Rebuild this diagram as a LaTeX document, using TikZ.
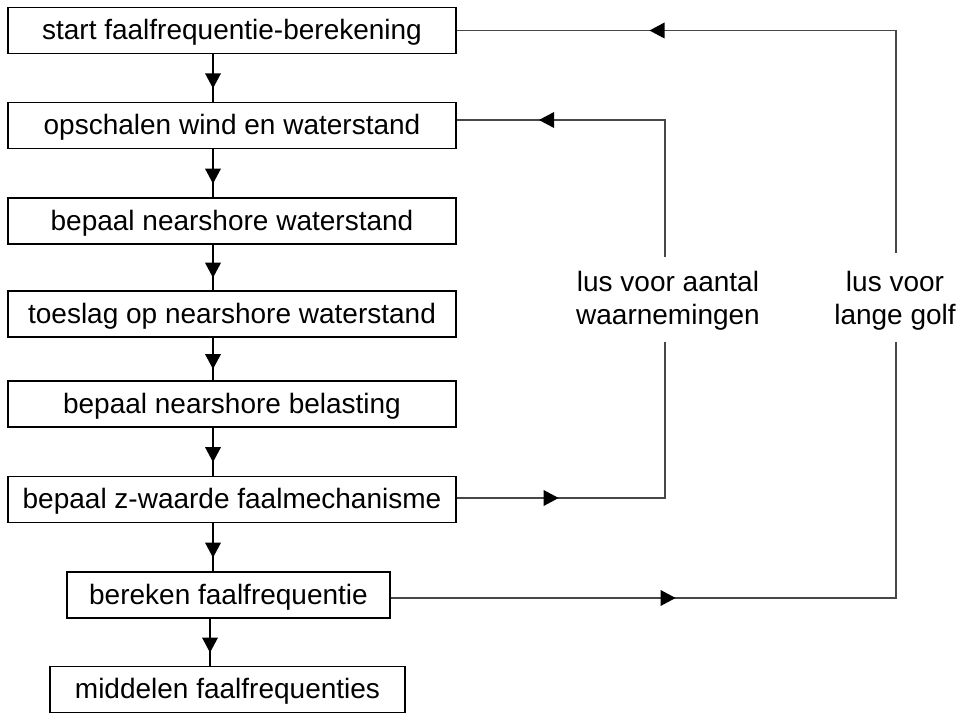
\documentclass[tikz,border=0pt]{standalone}
\usepackage{fontspec}
\setmainfont{Liberation Sans}
\usetikzlibrary{decorations.markings}
\tikzset{
  box/.style={draw=black, line width=1.2pt, minimum height=46pt, inner sep=0pt,
    text height=24pt, text depth=5.4pt,
    font=\fontsize{28}{30}\selectfont},
  flow/.style={draw=black, line width=1.6pt},
  loopline/.style={draw=black!72, line width=1.3pt},
  midtri/.style={postaction={decorate}, decoration={markings,
    mark=at position #1 with {\fill[black] (-7.5pt,-8pt) -- (7.5pt,0pt) -- (-7.5pt,8pt) -- cycle;}}},
  lbl/.style={align=center, inner sep=0pt, font=\fontsize{28}{33}\selectfont}
}
\begin{document}
\begin{tikzpicture}[x=1pt,y=-1pt]
\useasboundingbox (0,0) rectangle (968,714);
% boxes
\node[box, minimum width=448pt] (b1) at (232,30.5) {start faalfrequentie-berekening};
\node[box, minimum width=448pt] (b2) at (232,125.5) {opschalen wind en waterstand};
\node[box, minimum width=448pt] (b3) at (232,221) {bepaal nearshore waterstand};
\node[box, minimum width=448pt] (b4) at (232,314) {toeslag op nearshore waterstand};
\node[box, minimum width=448pt] (b5) at (232,404) {bepaal nearshore belasting};
\node[box, minimum width=448pt] (b6) at (232,499.5) {bepaal z-waarde faalmechanisme};
\node[box, minimum width=323pt] (b7) at (228.5,595) {bereken faalfrequentie};
\node[box, minimum width=355pt] (b8) at (227.5,689.5) {middelen faalfrequenties};
% labels
\node[lbl] (l1) at (668,300.5) {lus voor aantal\\waarnemingen};
\node[lbl] (l2) at (895,300.5) {lus voor\\lange golf};
% helper coordinates
\coordinate (ax) at (213,0);
\coordinate (ax2) at (210,0);
\coordinate (l1top) at (665,257);
\coordinate (l1bot) at (665,342);
\coordinate (l2top) at (896,253);
\coordinate (l2bot) at (896,342);
% vertical flow arrows
\draw[flow, midtri=0.56] (b1.south -| ax) -- (b2.north -| ax);
\draw[flow, midtri=0.56] (b2.south -| ax) -- (b3.north -| ax);
\draw[flow, midtri=0.56] (b3.south -| ax) -- (b4.north -| ax);
\draw[flow, midtri=0.56] (b4.south -| ax) -- (b5.north -| ax);
\draw[flow, midtri=0.56] (b5.south -| ax) -- (b6.north -| ax);
\draw[flow, midtri=0.56] (b6.south -| ax) -- (b7.north -| ax);
\draw[flow, midtri=0.56] (b7.south -| ax2) -- (b8.north -| ax2);
% loop for aantal waarnemingen
\draw[loopline, midtri=94.5pt] ([yshift=1.5pt]b6.east) -| (l1bot);
\draw[loopline, midtri=255.5pt] (l1top) |- ([yshift=5.5pt]b2.east);
% loop for lange golf
\draw[loopline, midtri=277.5pt] ([yshift=-3pt]b7.east) -| (l2bot);
\draw[loopline, midtri=461.5pt] (l2top) |- (b1.east);
\end{tikzpicture}
\end{document}
